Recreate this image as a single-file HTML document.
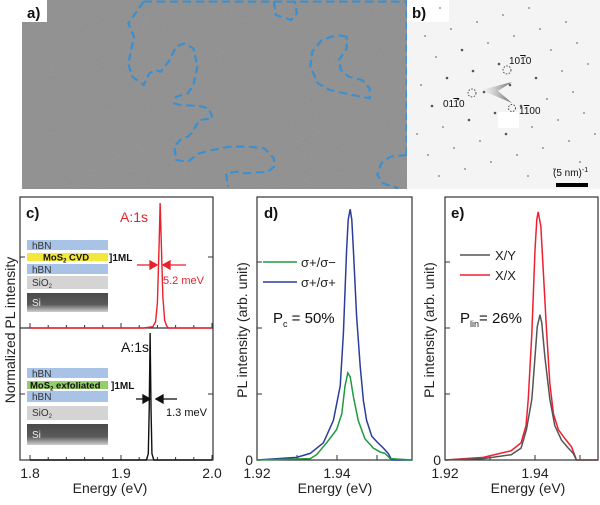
<!DOCTYPE html>
<html><head><meta charset="utf-8">
<style>
html,body{margin:0;padding:0;background:#fff;}
body{width:600px;height:500px;overflow:hidden;font-family:"Liberation Sans",sans-serif;}
svg text{font-family:"Liberation Sans","DejaVu Sans",sans-serif;}
</style></head>
<body>
<svg id="fig" width="600" height="500" viewBox="0 0 600 500">
<defs>
<filter id="noise" x="0" y="0" width="100%" height="100%">
<feTurbulence type="fractalNoise" baseFrequency="0.9" numOctaves="2" seed="3"/>
<feColorMatrix type="matrix" values="0 0 0 0 0.54  0 0 0 0 0.54  0 0 0 0 0.54  0 0 0 0.25 0"/>
</filter>
<linearGradient id="sigrad" x1="0" y1="0" x2="0" y2="1"><stop offset="0" stop-color="#4a4a4a"/><stop offset="0.6" stop-color="#5a5a5a"/><stop offset="1" stop-color="#cfcfcf"/></linearGradient>
<linearGradient id="streak" x1="1" y1="0" x2="0" y2="0"><stop offset="0" stop-color="#555" stop-opacity="0.9"/><stop offset="1" stop-color="#bbb" stop-opacity="0"/></linearGradient>
</defs>

<!-- Panel a -->
<g>
<rect x="22" y="0" width="385" height="189" fill="#8b8b8b"/>
<rect x="22" y="0" width="385" height="189" fill="#8b8b8b" filter="url(#noise)"/>
<rect x="0" y="0" width="22" height="189" fill="#fff"/>
<rect x="0" y="0" width="47" height="22" fill="#fff"/>
<text x="27" y="18" font-size="15" font-weight="bold" fill="#111">a)</text>
<g transform="scale(0.3831,0.3333)" fill="none" stroke="#3a8fd0" stroke-width="6" stroke-dasharray="22,12">
<path d="M375,5 L335,70 L350,110 L335,190 L345,230 L375,255 L390,220 L405,210 L420,215 L440,185 L460,140 L480,130 L505,145 L515,200 L505,255 L490,280 L460,290 L455,310 L470,315 L520,318 L545,325 L555,355 L520,360 L500,400 L490,410 L470,420 L455,440 L460,480 L490,485 L520,460 L555,450 L600,440 L650,440 L690,445 L715,475 L715,500 L700,515 L640,520 L620,515 L590,520 L595,560"/>
<path d="M715,5 L720,45 L760,60 L775,40 L770,5"/>
<path d="M375,5 L1062,5 L1062,465"/>
<path d="M905,110 L880,105 L840,120 L815,155 L810,200 L830,250 L860,270 L920,285 L965,295 L965,265 L945,240 L910,230 L890,210 L885,180 L905,145 Z"/>
<path d="M1062,465 L1020,470 L995,490 L985,525 L1000,550 L1040,565"/>
</g>
</g>

<!-- Panel b -->
<g>
<rect x="407" y="0" width="193" height="189" fill="#f4f4f4"/>
<rect x="407" y="0" width="42" height="22" fill="#fff"/>
<text x="412" y="18" font-size="15" font-weight="bold" fill="#111">b)</text>
<g id="dots" fill="#444"></g>
<path d="M481,90 L512,82 L498,91 L512,103 Z" fill="url(#streak)"/>
<rect x="498" y="112" width="21" height="16" fill="#fff"/>
<g fill="none" stroke="#222" stroke-width="0.8" stroke-dasharray="1.5,1.5">
<circle cx="507" cy="70" r="4"/><circle cx="472" cy="93" r="4"/><circle cx="512" cy="108" r="3.5"/>
</g>
<text x="509" y="64" font-size="10" font-family="Liberation Serif" fill="#111">10<tspan text-decoration="overline">1</tspan>0</text>
<text x="443" y="107" font-size="10" font-family="Liberation Serif" fill="#111">01<tspan text-decoration="overline">1</tspan>0</text>
<text x="519" y="114" font-size="10" font-family="Liberation Serif" fill="#111">1<tspan text-decoration="overline">1</tspan>00</text>
<text x="553" y="176" font-size="10" fill="#111">(5 nm)<tspan font-size="7" dy="-4">-1</tspan></text>
<rect x="556" y="183" width="32" height="4" fill="#000"/>
</g>

<!-- Panel c -->
<g>
<rect x="20" y="197" width="193" height="263" fill="none" stroke="#333" stroke-width="1.2"/>
<line x1="20" y1="328" x2="213" y2="328" stroke="#333" stroke-width="1.2"/>
<g id="cticks" stroke="#333" stroke-width="1"></g>
<text x="26" y="218" font-size="15" font-weight="bold" fill="#111">c)</text>
<text transform="translate(15,330) rotate(-90)" text-anchor="middle" font-size="14" fill="#222">Normalized PL intensity</text>
<text x="110" y="493" text-anchor="middle" font-size="14" fill="#222">Energy (eV)</text>
<g id="ctlabels" font-size="14" fill="#222" text-anchor="middle"></g>
<path id="cred" fill="none" stroke="#e8222a" stroke-width="1.4"/>
<path id="cblack" fill="none" stroke="#111" stroke-width="1.4"/>
<text x="120" y="222" font-size="14" fill="#e8222a">A:1s</text>
<text x="121" y="352" font-size="14" fill="#111">A:1s</text>
<g stroke="#e8222a" stroke-width="1.3" fill="#e8222a">
<line x1="137" y1="265" x2="152" y2="265"/><path d="M157,265 L150,261 L150,269Z"/>
<line x1="186" y1="265" x2="168" y2="265"/><path d="M163,265 L170,261 L170,269Z"/>
</g>
<text x="163" y="284" font-size="11" fill="#e8222a">5.2 meV</text>
<g stroke="#111" stroke-width="1.3" fill="#111">
<line x1="136" y1="399" x2="145" y2="399"/><path d="M150,399 L143,395 L143,403Z"/>
<line x1="177" y1="399" x2="161" y2="399"/><path d="M156,399 L163,395 L163,403Z"/>
</g>
<text x="166" y="416" font-size="11" fill="#111">1.3 meV</text>
<g font-size="10">
<rect x="27" y="240" width="81" height="10" fill="#a9c3e6"/><text x="32" y="249" fill="#333">hBN</text>
<rect x="27" y="253" width="81" height="8" fill="#f2e83a"/><text x="43" y="260.5" font-weight="bold" fill="#111" font-size="9.5">MoS<tspan font-size="6" dy="2">2</tspan><tspan dy="-2"> CVD</tspan></text>
<text x="109" y="261" font-weight="bold" fill="#111" font-size="10">]1ML</text>
<rect x="27" y="264" width="81" height="10" fill="#a9c3e6"/><text x="32" y="273" fill="#333">hBN</text>
<rect x="27" y="276" width="81" height="13" fill="#d4d4d4"/><text x="32" y="286" fill="#333">SiO<tspan font-size="6" dy="2">2</tspan></text>
<rect x="27" y="293" width="81" height="19" fill="url(#sigrad)"/><text x="32" y="306" fill="#eee">Si</text>
</g>
<g font-size="10">
<rect x="27" y="368" width="81" height="10" fill="#a9c3e6"/><text x="32" y="377" fill="#333">hBN</text>
<rect x="27" y="381" width="81" height="8" fill="#92cf6a"/><text x="30" y="388.5" font-weight="bold" fill="#111" font-size="9.5">MoS<tspan font-size="6" dy="2">2</tspan><tspan dy="-2"> exfoliated</tspan></text>
<text x="111" y="389" font-weight="bold" fill="#111" font-size="10">]1ML</text>
<rect x="27" y="391" width="81" height="11" fill="#a9c3e6"/><text x="32" y="400" fill="#333">hBN</text>
<rect x="27" y="406" width="81" height="14" fill="#d4d4d4"/><text x="32" y="416" fill="#333">SiO<tspan font-size="6" dy="2">2</tspan></text>
<rect x="27" y="424" width="81" height="21" fill="url(#sigrad)"/><text x="32" y="438" fill="#eee">Si</text>
</g>
</g>

<!-- Panel d -->
<g>
<rect x="257" y="197" width="155" height="263" fill="none" stroke="#333" stroke-width="1.2"/>
<g id="dticks" stroke="#333" stroke-width="1"></g>
<text x="264" y="218" font-size="15" font-weight="bold" fill="#111">d)</text>
<text transform="translate(247,330) rotate(-90)" text-anchor="middle" font-size="14" fill="#222">PL intensity (arb. unit)</text>
<text x="335" y="493" text-anchor="middle" font-size="14" fill="#222">Energy (eV)</text>
<g id="dtlabels" font-size="14" fill="#222" text-anchor="middle"></g>
<path id="dblue" fill="none" stroke="#2b3d9c" stroke-width="1.5"/>
<path id="dgreen" fill="none" stroke="#1f9a3e" stroke-width="1.5"/>
<g>
<line x1="263" y1="262" x2="297" y2="262" stroke="#1f9a3e" stroke-width="1.5"/>
<text x="301" y="267" font-size="13" fill="#222">σ+/σ−</text>
<line x1="263" y1="282" x2="297" y2="282" stroke="#2b3d9c" stroke-width="1.5"/>
<text x="301" y="287" font-size="13" fill="#222">σ+/σ+</text>
</g>
<text x="273" y="323" font-size="15" fill="#111">P<tspan font-size="9" dy="4">c</tspan><tspan dy="-4"> = 50%</tspan></text>
</g>

<!-- Panel e -->
<g>
<rect x="445" y="197" width="153" height="263" fill="none" stroke="#333" stroke-width="1.2"/>
<g id="eticks" stroke="#333" stroke-width="1"></g>
<text x="451" y="218" font-size="15" font-weight="bold" fill="#111">e)</text>
<text transform="translate(434,330) rotate(-90)" text-anchor="middle" font-size="14" fill="#222">PL intensity (arb. unit)</text>
<text x="528" y="493" text-anchor="middle" font-size="14" fill="#222">Energy (eV)</text>
<g id="etlabels" font-size="14" fill="#222" text-anchor="middle"></g>
<path id="ered" fill="none" stroke="#ee2030" stroke-width="1.5"/>
<path id="egray" fill="none" stroke="#555" stroke-width="1.5"/>
<g>
<line x1="460" y1="255" x2="490" y2="255" stroke="#555" stroke-width="1.5"/>
<text x="495" y="260" font-size="13" fill="#222">X/Y</text>
<line x1="460" y1="275" x2="490" y2="275" stroke="#ee2030" stroke-width="1.5"/>
<text x="495" y="280" font-size="13" fill="#222">X/X</text>
</g>
<text x="460" y="323" font-size="15" fill="#111">P<tspan font-size="9" dy="4">lin</tspan><tspan dy="-4">= 26%</tspan></text>
</g>
</svg>

<script>
// ---- Panel c data ----
const cTickValues = [1.8, 1.9, 2.0];
const cTickLabels = ["1.8", "1.9", "2.0"];
const cvdEnergy = [1.80, 1.925, 1.935, 1.938, 1.940, 1.942, 1.943, 1.944, 1.946, 1.948, 1.950, 1.952, 2.0];
const cvdIntensity = [0, 0, 0.01, 0.05, 0.2, 0.7, 1.0, 0.75, 0.25, 0.06, 0.02, 0, 0];
const exfEnergy = [1.80, 1.928, 1.930, 1.931, 1.932, 1.933, 1.934, 1.936, 2.0];
const exfIntensity = [0, 0, 0.05, 0.4, 1.0, 0.4, 0.05, 0, 0];
// ---- Panel d data ----
const dTickValues = [1.92, 1.94];
const dTickLabels = ["1.92", "1.94"];
const coEnergy = [1.92, 1.9299, 1.9333, 1.9366, 1.9391, 1.9408, 1.9416, 1.9424, 1.9428, 1.9433, 1.9437, 1.9441, 1.9449, 1.9458, 1.9466, 1.9474, 1.9487, 1.9499, 1.9516, 1.9528, 1.9537, 1.9588];
const coIntensity = [0, 0.02, 0.05, 0.13, 0.30, 0.56, 0.96, 1.59, 1.82, 1.90, 1.82, 1.59, 1.09, 0.71, 0.45, 0.30, 0.18, 0.14, 0.09, 0.05, 0, 0];
const crossEnergy = [1.92, 1.9333, 1.9349, 1.9374, 1.9399, 1.9412, 1.9420, 1.9427, 1.9433, 1.9441, 1.9453, 1.9470, 1.9491, 1.9508, 1.9520, 1.9533, 1.9588];
const crossIntensity = [0, 0.01, 0.04, 0.13, 0.23, 0.35, 0.56, 0.66, 0.63, 0.48, 0.30, 0.16, 0.09, 0.06, 0.05, 0.01, 0];
// ---- Panel e data ----
const eTickValues = [1.92, 1.94];
const eTickLabels = ["1.92", "1.94"];
const xxEnergy = [1.92, 1.9285, 1.9347, 1.9369, 1.9380, 1.9385, 1.9393, 1.9400, 1.9404, 1.9407, 1.9413, 1.9418, 1.9426, 1.9433, 1.9441, 1.9452, 1.9467, 1.9481, 1.9489, 1.9492, 1.954];
const xxIntensity = [0, 0.02, 0.07, 0.13, 0.26, 0.46, 0.96, 1.59, 1.82, 1.88, 1.77, 1.46, 0.96, 0.58, 0.35, 0.23, 0.16, 0.10, 0.03, 0, 0];
const xyEnergy = [1.92, 1.9285, 1.9347, 1.9369, 1.9381, 1.9393, 1.9400, 1.9405, 1.9411, 1.9415, 1.9422, 1.9433, 1.9444, 1.9459, 1.9474, 1.9485, 1.9492, 1.954];
const xyIntensity = [0, 0.01, 0.04, 0.09, 0.23, 0.46, 0.78, 1.01, 1.10, 1.04, 0.78, 0.46, 0.26, 0.15, 0.09, 0.05, 0, 0];
const yZeroLabel = "0";

const NS = "http://www.w3.org/2000/svg";
function lin(d0, d1, r0, r1) { return v => r0 + (v - d0) * (r1 - r0) / (d1 - d0); }
function pathFrom(xs, ys, sx, sy) {
  return xs.map((e, i) => (i ? "L" : "M") + sx(e).toFixed(2) + "," + sy(ys[i]).toFixed(2)).join(" ");
}
function mk(tag, attrs, parent) {
  const el = document.createElementNS(NS, tag);
  for (const k in attrs) el.setAttribute(k, attrs[k]);
  parent.appendChild(el);
  return el;
}

const cx = lin(1.8, 2.0, 30, 212);
const cyTop = lin(0, 1, 328, 203);
const cyBot = lin(0, 1, 460, 333);
document.getElementById("cred").setAttribute("d", pathFrom(cvdEnergy, cvdIntensity, cx, cyTop));
document.getElementById("cblack").setAttribute("d", pathFrom(exfEnergy, exfIntensity, cx, cyBot));
const cTicks = document.getElementById("cticks");
for (let e = 1.8; e <= 2.0001; e += 0.02) {
  const major = Math.abs(Math.round(e * 10) - e * 10) < 1e-6;
  const len = major ? 5 : 3;
  const t1 = mk("line", {x1: cx(e), x2: cx(e), y1: 460, y2: 460 - len}, cTicks);
  
  
  mk("line", {x1: cx(e), x2: cx(e), y1: 328, y2: 328 - len}, cTicks);
}
[257, 394].forEach(y => {
  mk("line", {x1: 20, x2: 25, y1: y, y2: y}, cTicks);
  mk("line", {x1: 208, x2: 213, y1: y, y2: y}, cTicks);
});
const ctl = document.getElementById("ctlabels");
cTickValues.forEach((v, i) => {
  const t = mk("text", {x: cx(v), y: 478}, ctl);
  t.textContent = cTickLabels[i];
  
  
});

function panel(x0, xMin, perEV, xMax, tickVals, tickLabels, tickId, labelId, prefix) {
  const sx = lin(xMin, xMin + 1, x0, x0 + perEV);
  const sy = lin(0, 1, 460, 328);
  const g = document.getElementById(tickId);
  for (let e = xMin; e <= xMax + 1e-9; e += 0.01) {
    const l = mk("line", {x1: sx(e), x2: sx(e), y1: 460, y2: 455}, g);
    
    
  }
  [0.5, 1, 1.5].forEach(v => mk("line", {x1: x0, x2: x0 + 5, y1: sy(v), y2: sy(v)}, g));
  const lg = document.getElementById(labelId);
  tickVals.forEach((v, i) => {
    const t = mk("text", {x: sx(v), y: 478}, lg);
    t.textContent = tickLabels[i];
    
    
  });
  const z = mk("text", {x: x0 - 4, y: 465, "text-anchor": "end"}, lg);
  z.textContent = yZeroLabel;
  
  
  return [sx, sy];
}
const [dx, dy] = panel(257, 1.92, 4000, 1.958, dTickValues, dTickLabels, "dticks", "dtlabels", "d");
document.getElementById("dblue").setAttribute("d", pathFrom(coEnergy, coIntensity, dx, dy));
document.getElementById("dgreen").setAttribute("d", pathFrom(crossEnergy, crossIntensity, dx, dy));
const [ex, ey] = panel(445, 1.92, 4500, 1.953, eTickValues, eTickLabels, "eticks", "etlabels", "e");
document.getElementById("ered").setAttribute("d", pathFrom(xxEnergy, xxIntensity, ex, ey));
document.getElementById("egray").setAttribute("d", pathFrom(xyEnergy, xyIntensity, ex, ey));

// diffraction dots (sparser lattice decoration)
const dotG = document.getElementById("dots");
const ax = [26, -7], bx = [11, 21];
for (let i = -4; i <= 4; i++) for (let j = -5; j <= 5; j++) {
  const px = 484 + i * ax[0] + j * bx[0], py = 92 + i * ax[1] + j * bx[1];
  if (px < 412 || px > 596 || py < 8 || py > 178) continue;
  if (px > 495 && px < 522 && py > 110 && py < 130) continue;
  const near = Math.abs(i) + Math.abs(j) < 3;
  const d = mk("circle", {cx: px.toFixed(1), cy: py.toFixed(1), r: near ? 1.3 : 0.9, opacity: near ? 0.9 : 0.7}, dotG);
  
  
}
</script>
</body></html>
